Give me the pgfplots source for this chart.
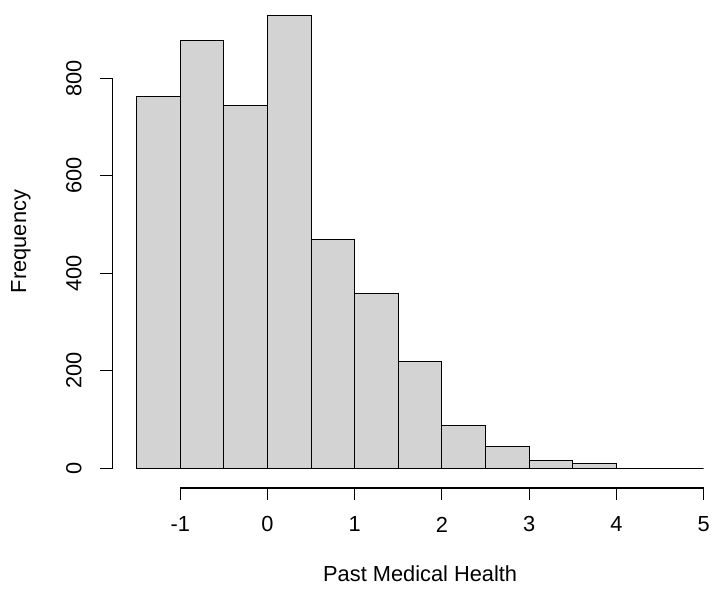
\documentclass[border=0pt]{standalone}
\usepackage{pgfplots}
\pgfplotsset{compat=1.18}
\usepackage{fontspec}
\setmainfont{Liberation Sans}
\definecolor{barfill}{RGB}{211,211,211}
\begin{document}
\fontsize{16.4}{19.7}\selectfont
\begin{tikzpicture}
\begin{axis}[
  scale only axis,
  width=426.56pt, height=340.9pt,
  xmin=-1.5, xmax=5, ymin=0, ymax=930,
  axis lines=none, clip=false,
]
\addplot[ybar interval, fill=barfill, draw=black, line width=0.8pt] coordinates {
(-1.5,763) (-1,877) (-0.5,745) (0,928) (0.5,469) (1,358) (1.5,219)
(2,88) (2.5,44) (3,15) (3.5,10) (4,0) (4.5,0) (5,0)};
\draw[line width=0.8pt] (axis cs:-1,-66.5) -- (axis cs:-1,-40.9) -- (axis cs:0,-40.9) -- (axis cs:0,-66.5)
  (axis cs:0,-40.9) -- (axis cs:1,-40.9) -- (axis cs:1,-66.5)
  (axis cs:1,-40.9) -- (axis cs:2,-40.9) -- (axis cs:2,-66.5)
  (axis cs:2,-40.9) -- (axis cs:3,-40.9) -- (axis cs:3,-66.5)
  (axis cs:3,-40.9) -- (axis cs:4,-40.9) -- (axis cs:4,-66.5)
  (axis cs:4,-40.9) -- (axis cs:5,-40.9) -- (axis cs:5,-66.5);
\pgfplotsinvokeforeach{-1,0,1,2,3,4,5}{
  \node[anchor=center] at (axis cs:#1,-115.6) {#1};
}
\draw[line width=0.8pt] (axis cs:-1.774,0) -- (axis cs:-1.774,800);
\pgfplotsinvokeforeach{0,200,400,600,800}{
  \draw[line width=0.8pt] (axis cs:-1.774,#1) -- ++(-9.75pt,0pt);
  \node[anchor=center, rotate=90] at (axis cs:-2.22,#1) {#1};
}
\node[anchor=center] at (axis cs:1.75,-215.9) {Past Medical Health};
\node[anchor=center, rotate=90] at (axis cs:-2.826,465) {Frequency};
\coordinate (bl) at (axis cs:-3.066,-240.4);
\coordinate (tr) at (axis cs:5.129,960.6);
\end{axis}
\useasboundingbox (bl) rectangle (tr);
\end{tikzpicture}
\end{document}
